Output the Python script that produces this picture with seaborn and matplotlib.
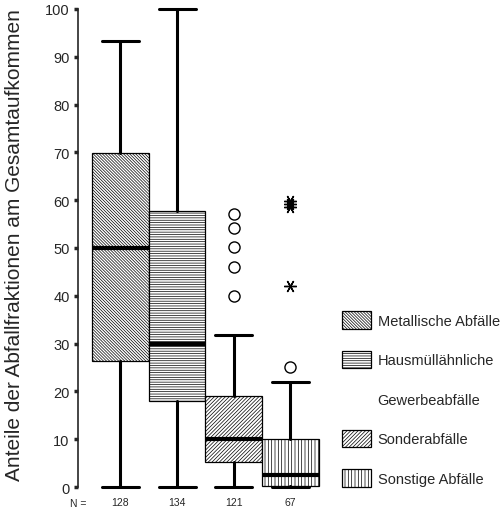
# Boxplot: Anteile der Abfallfraktionen am Gesamtaufkommen
import matplotlib
matplotlib.use("Agg")
import matplotlib.pyplot as plt
from matplotlib.patches import Patch
import seaborn as sns

groups = ["Metallische Abfälle", "Hausmüllähnliche", "Sonderabfälle", "Sonstige Abfälle"]
n_cases = [128, 134, 121, 67]
q1 = [26.4, 17.9, 5.2, 0.15]
median = [50.0, 30.0, 10.0, 2.6]
q3 = [69.8, 57.7, 19.0, 10.0]
whisker_low = [0, 0, 0, 0]
whisker_high = [93.2, 100, 31.9, 22.0]
outliers = [[], [], [40.0, 46.0, 50.2, 54.2, 57.1], [25.1]]
extremes = [[], [], [], [42.0, 58.6, 59.2, 59.8]]
hatches = ["\\" * 11, "-" * 7, "/" * 9, "|" * 5]

sns.set_style("white")
plt.rcParams["font.family"] = ["Liberation Sans", "DejaVu Sans"]
plt.rcParams["hatch.linewidth"] = 0.5
plt.rcParams["hatch.color"] = "black"

fig = plt.figure(figsize=(5.03, 5.10), dpi=100)
ax = fig.add_axes([0.155, 0.029, 0.490, 0.961])

stats = []
for i in range(len(groups)):
    stats.append(dict(med=median[i], q1=q1[i], q3=q3[i],
                      whislo=whisker_low[i], whishi=whisker_high[i],
                      fliers=outliers[i], label=groups[i]))

pos = list(range(1, len(groups) + 1))
bp = ax.bxp(stats, positions=pos, widths=1.0, capwidths=0.65, patch_artist=True,
            boxprops=dict(facecolor="white", edgecolor="black", linewidth=0.9),
            medianprops=dict(color="black", linewidth=3.0, solid_capstyle="butt"),
            whiskerprops=dict(color="black", linewidth=2.2),
            capprops=dict(color="black", linewidth=2.2),
            flierprops=dict(marker="o", markerfacecolor="none", markeredgecolor="black",
                            markersize=8, markeredgewidth=1.0))
for box, h in zip(bp["boxes"], hatches):
    box.set_hatch(h)

# extreme values drawn as asterisks
for i, vals in enumerate(extremes):
    if vals:
        ax.plot([pos[i]] * len(vals), vals, linestyle="none", marker=(6, 2, 90),
                markersize=9, markeredgewidth=1.0, color="black")

ax.set_xlim(0.25, 4.6)
ax.set_ylim(-1.5, 101)
ax.set_yticks(range(0, 101, 10))
ax.tick_params(axis="y", direction="out", length=3, width=2.5, pad=3, labelsize=10.5,
               left=True)
ax.set_xticks(pos, [str(n) for n in n_cases])
ax.tick_params(axis="x", length=0, pad=2, labelsize=7.5)
ax.text(0.25, -0.007, "N =", transform=ax.get_xaxis_transform(), ha="center", va="top",
        fontsize=7.5)

sns.despine(ax=ax, top=True, right=True, bottom=True, left=False)
ax.spines["left"].set_bounds(0, 100)
ax.spines["left"].set_linewidth(1.2)

fig.text(15 / 503, 1 - 245 / 510, "Anteile der Abfallfraktionen am Gesamtaufkommen",
         rotation=90, ha="center", va="center", fontsize=15)

handles = [Patch(facecolor="white", edgecolor="black", hatch=hatches[0], linewidth=0.9),
           Patch(facecolor="white", edgecolor="black", hatch=hatches[1], linewidth=0.9),
           Patch(facecolor="none", edgecolor="none"),
           Patch(facecolor="white", edgecolor="black", hatch=hatches[2], linewidth=0.9),
           Patch(facecolor="white", edgecolor="black", hatch=hatches[3], linewidth=0.9)]
labels = [groups[0], groups[1], "Gewerbeabfälle", groups[2], groups[3]]
fig.legend(handles, labels, loc="upper left", bbox_to_anchor=(342 / 503, 1 - 312 / 510),
           frameon=False, fontsize=10.5, handlelength=2.0, handleheight=1.5,
           handletextpad=0.45, labelspacing=1.49, borderpad=0, borderaxespad=0)

fig.savefig("out.png", dpi=100)
